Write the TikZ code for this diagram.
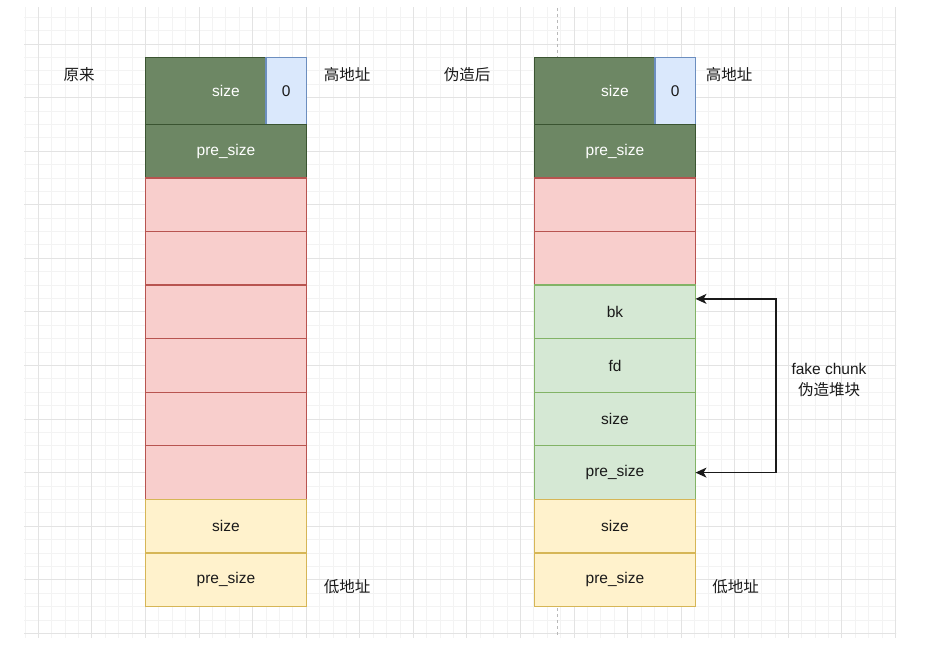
\documentclass[tikz,border=0pt]{standalone}
\usepackage{fontspec}
\setmainfont{Liberation Sans}
\newfontfamily\cjk{Noto Sans CJK SC}
\usetikzlibrary{arrows.meta}
\definecolor{gmin}{HTML}{F3F3F3}
\definecolor{gmaj}{HTML}{E3E3E3}
\definecolor{dgF}{HTML}{6D8764}\definecolor{dgD}{HTML}{3A5431}
\definecolor{blF}{HTML}{DAE8FC}\definecolor{blD}{HTML}{6C8EBF}
\definecolor{rdF}{HTML}{F8CECC}\definecolor{rdD}{HTML}{B85450}
\definecolor{lgF}{HTML}{D5E8D4}\definecolor{lgD}{HTML}{82B366}
\definecolor{ywF}{HTML}{FFF2CC}\definecolor{ywD}{HTML}{D6B656}
\definecolor{txt}{HTML}{1A1A1A}
\tikzset{
  cell/.style={draw, line width=1.3pt, minimum width=161pt, minimum height=53.57pt, inner sep=0pt, outer sep=0pt, font=\fontsize{15.5}{18}\selectfont, text=txt},
  dg/.style={cell, fill=dgF, draw=dgD, text=white},
  bl/.style={cell, fill=blF, draw=blD, minimum width=40.5pt, minimum height=67pt},
  rd/.style={cell, fill=rdF, draw=rdD},
  lg/.style={cell, fill=lgF, draw=lgD},
  yw/.style={cell, fill=ywF, draw=ywD},
  lbl/.style={inner sep=0pt, font=\cjk\fontsize{15.5}{18}\selectfont, text=txt},
  arr/.style={line width=1.3pt, {Stealth[length=11pt,width=10pt,inset=3pt]}-{Stealth[length=11pt,width=10pt,inset=3pt]}, txt}
}
\begin{document}
\begin{tikzpicture}[x=1pt,y=-1pt]
\useasboundingbox[fill=white] (0,0) rectangle (934,647);
% grid
\begin{scope}
\clip (24,8) rectangle (896,637);
\foreach \i in {0,...,70} { \draw[gmin, line width=0.8pt] ({-15.27+\i*13.393},0) -- ++(0,647); }
\foreach \i in {0,...,50} { \draw[gmin, line width=0.8pt] (0,{-9.57+\i*13.393}) -- ++(934,0); }
\foreach \i in {0,...,18} { \draw[gmaj, line width=0.9pt] ({-15.27+\i*53.57},0) -- ++(0,647); }
\foreach \i in {0,...,13} { \draw[gmaj, line width=0.9pt] (0,{-9.57+\i*53.57}) -- ++(934,0); }
\end{scope}
\coordinate (dt) at (557.3,8);
\coordinate (db) at (557.3,637);
\draw[gray!55, line width=0.8pt, dash pattern=on 3pt off 3pt] (dt) -- (db);
% left column
\node[dg, minimum height=67pt] (ls) at (226,91) {size};
\node[bl] (l0) at (286.25,91) {0};
\node[dg] (lp) at (226,151.25) {pre\_size};
\node[rd] (l1) at (226,204.8) {};
\node[rd] (l2) at (226,258.4) {};
\node[rd] (l3) at (226,311.9) {};
\node[rd] (l4) at (226,365.5) {};
\node[rd] (l5) at (226,419.1) {};
\node[rd] (l6) at (226,472.6) {};
\node[yw] (l7) at (226,526.2) {size};
\node[yw] (l8) at (226,579.8) {pre\_size};
% right column
\node[dg, minimum height=67pt] (rs) at (615,91) {size};
\node[bl] (r0) at (675.25,91) {0};
\node[dg] (rp) at (615,151.25) {pre\_size};
\node[rd] (r1) at (615,204.8) {};
\node[rd] (r2) at (615,258.4) {};
\node[lg] (bk) at (615,311.9) {bk};
\node[lg] (fd) at (615,365.5) {fd};
\node[lg] (fs) at (615,419.1) {size};
\node[lg] (fp) at (615,472.6) {pre\_size};
\node[yw] (r7) at (615,526.2) {size};
\node[yw] (r8) at (615,579.8) {pre\_size};
% labels
\node[lbl] (t1) at (79,75) {原来};
\node[lbl] (t2) at (347,75) {高地址};
\node[lbl] (t3) at (467,75) {伪造后};
\node[lbl] (t4) at (729,75) {高地址};
\node[lbl] (t5) at (347,586.5) {低地址};
\node[lbl] (t6) at (735.5,586.5) {低地址};
\node[inner sep=0pt, align=center, text=txt, font=\fontsize{15.5}{21}\selectfont] (fk) at (829,380) {fake chunk\\{\cjk 伪造堆块}};
% arrow
\draw[arr] ([yshift=13pt]bk.east) -- ++(80.5,0) |- (fp.east);
\end{tikzpicture}
\end{document}
